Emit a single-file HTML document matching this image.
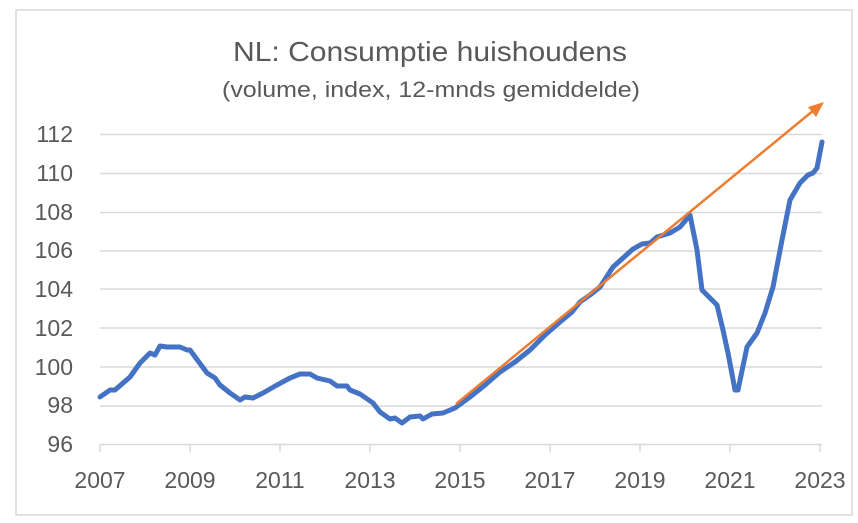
<!DOCTYPE html>
<html><head><meta charset="utf-8"><style>
html,body{margin:0;padding:0;background:#fff;}
svg{display:block;}
text{font-family:"Liberation Sans",sans-serif;fill:#595959;}
</style></head><body>
<svg width="858" height="523" viewBox="0 0 858 523" xmlns="http://www.w3.org/2000/svg">
<rect x="16" y="10" width="836" height="505" fill="#fff" stroke="#d9d9d9" stroke-width="1.5"/>
<text x="233" y="61" font-size="28" textLength="394" lengthAdjust="spacingAndGlyphs">NL: Consumptie huishoudens</text>
<text x="222" y="97" font-size="22" textLength="418" lengthAdjust="spacingAndGlyphs">(volume, index, 12-mnds gemiddelde)</text>
<g stroke="#d9d9d9" stroke-width="1.5">
<line x1="100" y1="134.5" x2="822" y2="134.5"/>
<line x1="100" y1="173.5" x2="822" y2="173.5"/>
<line x1="100" y1="212.5" x2="822" y2="212.5"/>
<line x1="100" y1="251" x2="822" y2="251"/>
<line x1="100" y1="289" x2="822" y2="289"/>
<line x1="100" y1="328" x2="822" y2="328"/>
<line x1="100" y1="367" x2="822" y2="367"/>
<line x1="100" y1="406" x2="822" y2="406"/>
<line x1="100" y1="444.5" x2="822" y2="444.5"/>
<line x1="100" y1="444" x2="100" y2="452"/>
<line x1="190" y1="444" x2="190" y2="452"/>
<line x1="280" y1="444" x2="280" y2="452"/>
<line x1="370" y1="444" x2="370" y2="452"/>
<line x1="460" y1="444" x2="460" y2="452"/>
<line x1="550" y1="444" x2="550" y2="452"/>
<line x1="640" y1="444" x2="640" y2="452"/>
<line x1="730" y1="444" x2="730" y2="452"/>
<line x1="820" y1="444" x2="820" y2="452"/>
</g>
<g font-size="23" text-anchor="end">
<text x="73" y="142">112</text>
<text x="73" y="181">110</text>
<text x="73" y="220">108</text>
<text x="73" y="258">106</text>
<text x="73" y="297">104</text>
<text x="73" y="336">102</text>
<text x="73" y="375">100</text>
<text x="73" y="413">98</text>
<text x="73" y="452">96</text>
</g>
<g font-size="23" text-anchor="middle">
<text x="100" y="488">2007</text>
<text x="190" y="488">2009</text>
<text x="280" y="488">2011</text>
<text x="370" y="488">2013</text>
<text x="460" y="488">2015</text>
<text x="550" y="488">2017</text>
<text x="640" y="488">2019</text>
<text x="730" y="488">2021</text>
<text x="820" y="488">2023</text>
</g>
<polyline fill="none" stroke="#4472c4" stroke-width="5" stroke-linejoin="round" stroke-linecap="round" points="100,397 110,390 115,390 130,377 140,363 150,353 155,355 160,346 167,347 180,347 187,350 190,350 207,373 215,378 220,385 230,393 240,400 245,397 253,398 263,393 277,385 290,378 300,374 310,374 317,378 330,381 337,386 347,386 350,390 360,394 373,403 380,412 390,419 395,418 402,423 410,417 420,416 423,419 432,414 443,413 455,408 470,397 485,385 500,372 515,362 530,350 545,335 560,322 572,312 580,302 590,295 600,287 613,267 623,258 633,249 642,244 650,243 657,237 670,233 680,227 690,215 697,250 702,290 707,295 717,305 723,330 728,353 735,390 738,390 747,347 757,333 765,313 773,287 782,240 790,200 800,183 808,175 813,173 817,168 822,142"/>
<line x1="456" y1="404" x2="814" y2="110" stroke="#ed7d31" stroke-width="2.5"/>
<polygon points="824,102 808,107 816,117" fill="#ed7d31"/>
</svg>
</body></html>
